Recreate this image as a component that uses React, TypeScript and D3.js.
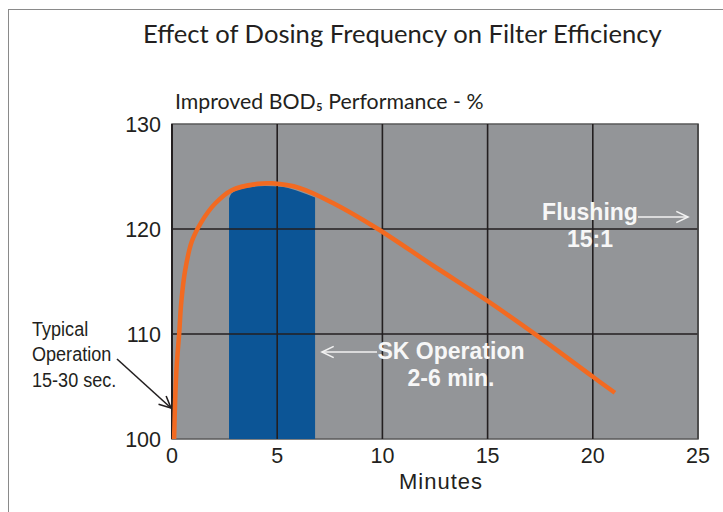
import React, { useRef, useEffect } from "react";
import * as d3 from "d3";

// curve: minutes vs improved BOD5 performance (%)
const curveMinutes = [0.1, 0.15, 0.22, 0.34, 0.44, 0.62, 0.94, 1.41, 2.04, 2.84, 4.09, 4.74, 6.08, 7.67, 9.73, 12.42, 14.96, 17.17, 20.02, 21.05];
const curveValues = [100, 103.7, 106.9, 110, 113, 116.0, 118.8, 120.7, 122.4, 123.7, 124.3, 124.35, 123.9, 122.45, 120.07, 116.5, 113.2, 110.1, 105.9, 104.4];

// SK operation band (blue block) top edge
const bandMinutes = [2.71, 2.84, 3.47, 4.42, 5.28, 6.08, 6.8];
const bandTop = [122.9, 123.4, 123.9, 124.1, 124.0, 123.55, 123.0];

const xTicks = [0, 5, 10, 15, 20, 25];
const yTicks = [100, 110, 120, 130];

const GRAY = "#939598";
const BLUE = "#0c5596";
const ORANGE = "#f26a21";
const INK = "#231f20";

const App = () => {
  const svgRef = useRef<SVGSVGElement>(null);

  useEffect(() => {
    const svg = d3.select(svgRef.current);
    svg.selectAll("*").remove();

    const x = d3.scaleLinear().domain([0, 25]).range([172, 698]);
    const y = d3.scaleLinear().domain([100, 130]).range([439, 124]);

    // outer frame (only left/top visible)
    svg
      .append("rect")
      .attr("x", 8.5)
      .attr("y", 9.5)
      .attr("width", 900)
      .attr("height", 700)
      .attr("fill", "none")
      .attr("stroke", "#8a8a8a");

    svg
      .append("text")
      .attr("x", 143)
      .attr("y", 43)
      .attr("font-family", "Lato")
      .attr("font-size", 25.6)
      .attr("fill", INK)
      .text("Effect of Dosing Frequency on Filter Efficiency");

    svg
      .append("text")
      .attr("x", 175)
      .attr("y", 109)
      .attr("font-family", "Lato")
      .attr("font-size", 21.3)
      .attr("fill", INK)
      .text("Improved BOD₅ Performance - %");

    // plot background
    svg
      .append("rect")
      .attr("x", x(0))
      .attr("y", y(130))
      .attr("width", x(25) - x(0))
      .attr("height", y(100) - y(130))
      .attr("fill", GRAY)
      .attr("stroke", "#5a5a5a")
      .attr("stroke-width", 1.5);

    // blue band
    const band = bandMinutes.map((m, i) => [m, bandTop[i]] as [number, number]);
    svg
      .append("path")
      .datum(band)
      .attr("fill", BLUE)
      .attr(
        "d",
        d3
          .area<[number, number]>()
          .x((d) => x(d[0]))
          .y0(y(100))
          .y1((d) => y(d[1]))
          .curve(d3.curveMonotoneX)
      );

    // grid
    const grid = svg.append("g").attr("stroke", INK).attr("stroke-width", 1.6);
    grid
      .selectAll("line.v")
      .data(xTicks.slice(1, -1))
      .join("line")
      .attr("class", "v")
      .attr("x1", (d) => x(d))
      .attr("x2", (d) => x(d))
      .attr("y1", y(130))
      .attr("y2", y(100));
    grid
      .selectAll("line.h")
      .data(yTicks.slice(1, -1))
      .join("line")
      .attr("class", "h")
      .attr("x1", x(0))
      .attr("x2", x(25))
      .attr("y1", (d) => y(d))
      .attr("y2", (d) => y(d));
    grid
      .append("line")
      .attr("x1", x(0))
      .attr("x2", x(0))
      .attr("y1", y(130))
      .attr("y2", y(100))
      .attr("stroke-width", 2);
    grid
      .append("line")
      .attr("x1", x(25))
      .attr("x2", x(25))
      .attr("y1", y(130))
      .attr("y2", y(100))
      .attr("stroke", "#444");

    // orange curve
    const pts = curveMinutes.map((m, i) => [m, curveValues[i]] as [number, number]);
    svg
      .append("path")
      .datum(pts)
      .attr("fill", "none")
      .attr("stroke", ORANGE)
      .attr("stroke-width", 4.5)
      .attr(
        "d",
        d3
          .line<[number, number]>()
          .x((d) => x(d[0]))
          .y((d) => y(d[1]))
          .curve(d3.curveCatmullRom.alpha(0.5))
      );

    // tick labels
    svg
      .append("g")
      .selectAll("text")
      .data(yTicks)
      .join("text")
      .attr("x", 161)
      .attr("y", (d) => y(d) + 7.5)
      .attr("text-anchor", "end")
      .attr("font-family", "Liberation Sans")
      .attr("font-size", 21.5)
      .attr("fill", INK)
      .text((d) => d);

    svg
      .append("g")
      .selectAll("text")
      .data(xTicks)
      .join("text")
      .attr("x", (d) => x(d))
      .attr("y", 463)
      .attr("text-anchor", "middle")
      .attr("font-family", "Liberation Sans")
      .attr("font-size", 21.5)
      .attr("fill", INK)
      .text((d) => d);

    svg
      .append("text")
      .attr("x", 441)
      .attr("y", 489)
      .attr("text-anchor", "middle")
      .attr("font-family", "Liberation Sans")
      .attr("font-size", 22)
      .attr("letter-spacing", 1)
      .attr("fill", INK)
      .text("Minutes");

    // "Typical Operation" annotation, condensed like the original
    const typ = svg
      .append("text")
      .attr("transform", "translate(32,0) scale(0.86,1)")
      .attr("font-family", "Liberation Sans")
      .attr("font-size", 21)
      .attr("fill", INK);
    ["Typical", "Operation", "15-30 sec."].forEach((t, i) => {
      typ
        .append("tspan")
        .attr("x", 0)
        .attr("y", 336 + i * 25.5)
        .text(t);
    });

    const arrow = (x1: number, y1: number, x2: number, y2: number, color: string) => {
      const g = svg
        .append("g")
        .attr("stroke", color)
        .attr("stroke-width", 1.6)
        .attr("fill", "none");
      g.append("line").attr("x1", x1).attr("y1", y1).attr("x2", x2).attr("y2", y2);
      const a = Math.atan2(y2 - y1, x2 - x1);
      const L = 13;
      const s = 0.45;
      g.append("path").attr(
        "d",
        `M${x2 - L * Math.cos(a - s)},${y2 - L * Math.sin(a - s)}L${x2},${y2}L${x2 - L * Math.cos(a + s)},${y2 - L * Math.sin(a + s)}`
      );
    };

    arrow(117, 359, 171, 408, INK);
    arrow(377, 352, 322, 352, "#f2f2f2");
    arrow(638, 217, 688, 217, "#f2f2f2");

    // white bold labels
    const white = (lines: string[], cx: number, y0: number) => {
      const t = svg
        .append("text")
        .attr("font-family", "Liberation Sans")
        .attr("font-weight", "bold")
        .attr("font-size", 23)
        .attr("fill", "#f7f7f7")
        .attr("text-anchor", "middle");
      lines.forEach((l, i) => {
        t.append("tspan").attr("x", cx).attr("y", y0 + i * 26.5).text(l);
      });
    };
    white(["SK Operation", "2-6 min."], 451, 359);
    white(["Flushing", "15:1"], 590, 220);
  }, []);

  return (
    <svg
      ref={svgRef}
      width={723}
      height={512}
      style={{ position: "absolute", left: 0, top: 0, background: "#fff" }}
    ></svg>
  );
};

export default App;
